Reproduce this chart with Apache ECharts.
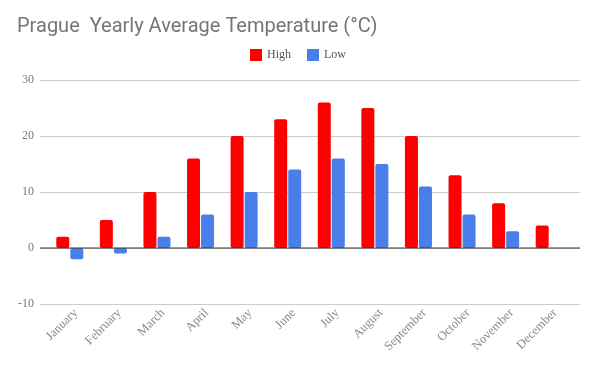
<!DOCTYPE html>
<html><head><meta charset="utf-8">
<script src="https://cdn.jsdelivr.net/npm/echarts@6/dist/echarts.min.js"></script>
<style>html,body{margin:0;padding:0;background:#fff}#c{width:596px;height:366px}</style>
</head><body><div id="c"></div>
<script>
const titleText = 'Prague  Yearly Average Temperature (°C)';
const months = ['January','February','March','April','May','June','July','August','September','October','November','December'];
const highs = [2, 5, 10, 16, 20, 23, 26, 25, 20, 13, 8, 4];
const lows = [-2, -1, 2, 6, 10, 14, 16, 15, 11, 6, 3, 0];
const yTicks = [-10, 0, 10, 20, 30];

const chart = echarts.init(document.getElementById('c'), null, {renderer: 'canvas'});
const serif = '"Liberation Serif", "DejaVu Serif", serif';
chart.setOption({
  animation: false,
  title: {text: titleText, left: 12, top: 12, textStyle: {fontFamily: 'Roboto', fontWeight: 'normal', fontSize: 20, color: '#757575'}},
  legend: {
    top: 44, left: 'center', itemWidth: 12, itemHeight: 12, itemGap: 16, itemStyle: {borderWidth: 0},
    textStyle: {fontFamily: serif, fontSize: 12, color: '#555'},
    icon: 'rect', data: ['High', 'Low']
  },
  grid: [
    {left: 40, right: 16, top: 80, height: 224, containLabel: false},
    {left: 48, right: 25, top: 80, height: 224, containLabel: false},
    {left: 54, right: 19, top: 80, height: 224, containLabel: false}
  ],
  xAxis: [
    {gridIndex: 0, type: 'value', show: false, min: 0, max: 1},
    {gridIndex: 1, type: 'category', data: months, axisLine: {show: false}, axisTick: {show: false}, axisLabel: {show: false}},
    {gridIndex: 2, type: 'category', data: months, axisLine: {show: false}, axisTick: {show: false},
     axisLabel: {rotate: 45, fontFamily: serif, fontSize: 12.5, color: '#888', margin: 7, interval: 0}}
  ],
  yAxis: [
    {gridIndex: 0, type: 'value', min: -10, max: 30, interval: 10,
     axisLine: {show: false}, axisTick: {show: false},
     axisLabel: {fontFamily: serif, fontSize: 12, color: '#777', margin: 6, customValues: yTicks},
     splitLine: {lineStyle: {color: '#cccccc', width: 1}}},
    {gridIndex: 1, type: 'value', min: -10, max: 30, interval: 10, show: false, splitLine: {show: false}},
    {gridIndex: 2, type: 'value', min: -10, max: 30, interval: 10, show: false, splitLine: {show: false}}
  ],
  series: [
    {name: 'High', type: 'bar', xAxisIndex: 1, yAxisIndex: 1, data: highs, barCategoryGap: '38%', barGap: '8%',
     itemStyle: {color: '#ff0000', borderRadius: 2}},
    {name: 'Low', type: 'bar', xAxisIndex: 1, yAxisIndex: 1, data: lows, barCategoryGap: '38%', barGap: '8%',
     itemStyle: {color: '#4a7ee8', borderRadius: 2}},
    {type: 'line', xAxisIndex: 0, yAxisIndex: 0, data: [[0, 0], [1, 0]], symbol: 'none', silent: true,
     lineStyle: {color: '#333', width: 1.2}, z: 5, legendHoverLink: false}
  ]
});
</script></body></html>
